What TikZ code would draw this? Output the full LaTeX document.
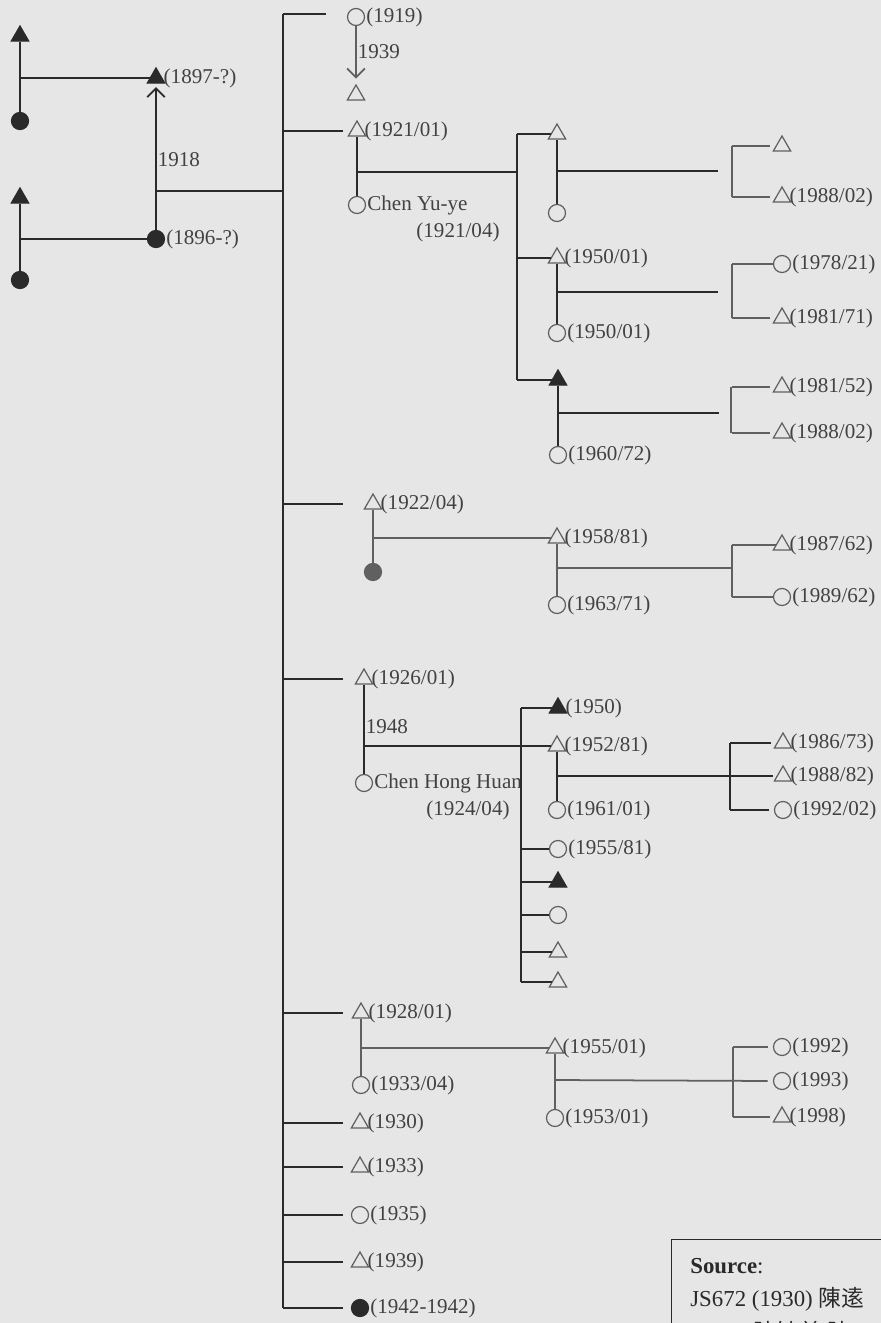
\documentclass[tikz,border=0pt]{standalone}
\usepackage{fontspec}
\setmainfont{Liberation Serif}
\newfontfamily\cjk{Noto Sans CJK TC}
\usetikzlibrary{shapes.geometric,arrows.meta}

\definecolor{paper}{HTML}{E6E6E6}
\definecolor{ink}{HTML}{2A2A2A}
\definecolor{soft}{HTML}{606060}
\definecolor{txt}{HTML}{424242}

\tikzset{
  male/.style={regular polygon, regular polygon sides=3, draw=soft, line width=0.7pt, inner sep=0pt, minimum size=0.40cm},
  female/.style={circle, draw=soft, line width=0.7pt, inner sep=0pt, minimum size=0.34cm},
  dead/.style={fill=ink, draw=ink},
  lbl/.style={text=txt, font=\fontsize{12}{14}\selectfont, inner sep=0.5pt},
  tie/.style={draw=ink, line width=1pt},
  faint/.style={draw=soft, line width=1pt},
}

\begin{document}
\begin{tikzpicture}[x=0.02cm, y=-0.02cm]
		\useasboundingbox (0,0) rectangle (881,1323);
		\fill[paper] (0,0) rectangle (881,1323);
		\clip (0,0) rectangle (881,1323);
		% parents' generation
		\node[male,dead] (ffa) at (20,36) {};
		\node[female,dead] (ffm) at (20,121) {};
		\node[male,dead,label={[lbl]right:{(1897-?)}}] (fa) at (156,78) {};
		\node[male,dead] (mfa) at (20,198) {};
		\node[female,dead] (mfm) at (20,280) {};
		\node[female,dead,label={[lbl]right:{(1896-?)}}] (mo) at (156,239) {};
		\draw[tie] (ffa.south) -- (ffm.north);
		\draw[tie] (ffa |- fa) -- (fa.west);
		\draw[tie] (mfa.south) -- (mfm.north);
		\draw[tie] (mfa |- mo) -- (mo.west);
		\draw[tie, -{Straight Barb[length=5pt,width=10pt]}, shorten >=2pt] (mo.north) -- (fa.south) node[lbl, pos=.48, right]{1918};
		\coordinate (m0) at (156,191);
		\coordinate (top) at (283,14);
		\coordinate (bot) at (283,1308);
		\coordinate (tip) at (343,0);
		\draw[tie] (m0) -- (m0 -| top);
		\draw[tie] (top) -- (bot);
		% children
		\node[female,label={[lbl]right:{(1919)}}] (c1) at (356,17) {};
		\node[male] (c1s) at (356,95) {};
		\draw[tie] (top) -- (top -| c1.west) [shorten >=12pt];
		\draw[faint, -{Straight Barb[length=5pt,width=10pt]}, shorten >=3pt] (c1.south) -- (c1s.north) node[lbl, pos=.45, right]{1939};
		\node[male,label={[lbl]right:{(1921/01)}}] (c2) at (357,131) {};
		\node[female,label={[lbl]right:{Chen Yu-ye}}] (w2) at (357,205) {};
		\node[lbl] (d2) at (458,232) {(1921/04)};
		\node[male,label={[lbl]right:{(1922/04)}}] (c3) at (373,504) {};
		\node[female,fill=soft] (w3) at (373,572) {};
		\node[male,label={[lbl]right:{(1926/01)}}] (c4) at (364,679) {};
		\node[female,label={[lbl]right:{Chen Hong Huan}}] (w4) at (364,783) {};
		\node[lbl] (d4) at (468,810) {(1924/04)};
		\node[male,label={[lbl]right:{(1928/01)}}] (c5) at (361,1013) {};
		\node[female,label={[lbl]right:{(1933/04)}}] (w5) at (361,1085) {};
		\node[male,label={[lbl]right:{(1930)}}] (c6) at (360,1123) {};
		\node[male,label={[lbl]right:{(1933)}}] (c7) at (360,1167) {};
		\node[female,label={[lbl]right:{(1935)}}] (c8) at (360,1215) {};
		\node[male,label={[lbl]right:{(1939)}}] (c9) at (360,1262) {};
		\node[female,dead,label={[lbl]right:{(1942-1942)}}] (c10) at (360,1308) {};
		\foreach \c in {c2,c3,c4,c5,c6,c7,c8,c9,c10}
			\draw[tie] (top |- \c) -- (tip |- \c);
		\draw[tie] (c2.south) -- (w2.north);
		\draw[faint] (c3.south) -- (w3.north);
		\draw[tie] (c4.south) -- (w4.north) node[lbl, pos=.47, right]{1948};
		\draw[faint] (c5.south) -- (w5.north);
		% grandchildren of (1921/01)
		\coordinate (m2) at (357,172);
		\coordinate (k1) at (517,0);
		\node[male] (g1) at (557,134) {};
		\node[female] (g1s) at (557,213) {};
		\node[male,label={[lbl]right:{(1950/01)}}] (g2) at (557,258) {};
		\node[female,label={[lbl]right:{(1950/01)}}] (g2s) at (557,333) {};
		\node[male,dead] (g3) at (558,380) {};
		\node[female,label={[lbl]right:{(1960/72)}}] (g3s) at (558,455) {};
		\draw[tie] (m2) -- (m2 -| k1);
		\draw[tie] (k1 |- g1) -- (k1 |- g3);
		\foreach \g in {g1,g2,g3}
			\draw[tie] (k1 |- \g) -- (\g.west);
		\draw[tie] (g1.south) -- (g1s.north);
		\draw[tie] (g2.south) -- (g2s.north);
		\draw[tie] (g3.south) -- (g3s.north);
		% great-grandchildren
		\coordinate (n1) at (557,171);
		\coordinate (b1) at (732,171);
		\node[male] (e1) at (782,146) {};
		\node[male,label={[lbl]right:{(1988/02)}}] (e2) at (782,197) {};
		\draw[tie, shorten >=8pt] (n1) -- (b1);
		\draw[faint] (b1 |- e1) -- (b1 |- e2);
		\coordinate (n2) at (557,292);
		\coordinate (b2) at (732,292);
		\node[female,label={[lbl]right:{(1978/21)}}] (e3) at (782,264) {};
		\node[male,label={[lbl]right:{(1981/71)}}] (e4) at (782,318) {};
		\draw[tie, shorten >=8pt] (n2) -- (b2);
		\draw[faint] (b2 |- e3) -- (b2 |- e4);
		\coordinate (n3) at (558,413);
		\coordinate (b3) at (731,413);
		\node[male,label={[lbl]right:{(1981/52)}}] (e5) at (782,387) {};
		\node[male,label={[lbl]right:{(1988/02)}}] (e6) at (782,433) {};
		\draw[tie, shorten >=7pt] (n3) -- (b3);
		\draw[faint] (b3 |- e5) -- (b3 |- e6);
		\foreach \e in {e1,e2,e4,e5,e6}
			\draw[faint, shorten >=3pt] (b1 |- \e) -- (\e.west);
		\draw[faint] (b1 |- e3) -- (e3.west);
		% grandchildren of (1922/04)
		\coordinate (m3) at (373,538);
		\node[male,label={[lbl]right:{(1958/81)}}] (g4) at (557,538) {};
		\node[female,label={[lbl]right:{(1963/71)}}] (g4s) at (557,605) {};
		\draw[faint] (m3) -- (g4.west);
		\draw[faint] (g4.south) -- (g4s.north);
		\coordinate (n4) at (557,568);
		\coordinate (b4) at (732,568);
		\node[male,label={[lbl]right:{(1987/62)}}] (e7) at (782,545) {};
		\node[female,label={[lbl]right:{(1989/62)}}] (e8) at (782,597) {};
		\draw[faint] (n4) -- (b4);
		\draw[faint] (b4 |- e7) -- (b4 |- e8);
		\draw[faint] (b4 |- e7) -- (e7.west);
		\draw[faint] (b4 |- e8) -- (e8.west);
		% grandchildren of (1926/01)
		\coordinate (m4) at (364,746);
		\coordinate (k2) at (521,0);
		\node[male,dead,label={[lbl]right:{(1950)}}] (g5) at (558,708) {};
		\node[male,label={[lbl]right:{(1952/81)}}] (g6) at (557,746) {};
		\node[female,label={[lbl]right:{(1961/01)}}] (g6s) at (557,810) {};
		\node[female,label={[lbl]right:{(1955/81)}}] (g7) at (558,849) {};
		\node[male,dead] (g8) at (558,882) {};
		\node[female] (g9) at (558,915) {};
		\node[male] (g10) at (558,952) {};
		\node[male] (g11) at (558,982) {};
		\draw[tie] (m4) -- (g6.west);
		\draw[tie] (k2 |- g5) -- (k2 |- g11);
		\foreach \g in {g5,g7,g8,g9,g10,g11}
			\draw[tie] (k2 |- \g) -- (\g.west);
		\draw[tie] (g6.south) -- (g6s.north);
		\coordinate (n6) at (557,776);
		\coordinate (b6) at (730,776);
		\node[male,label={[lbl]right:{(1986/73)}}] (e9) at (783,743) {};
		\node[male,label={[lbl]right:{(1988/82)}}] (e10) at (783,776) {};
		\node[female,label={[lbl]right:{(1992/02)}}] (e11) at (783,810) {};
		\draw[tie, shorten >=2pt] (n6) -- (e10.west);
		\draw[tie] (b6 |- e9) -- (b6 |- e11);
		\draw[tie, shorten >=3pt] (b6 |- e9) -- (e9.west);
		\draw[tie, shorten >=3pt] (b6 |- e11) -- (e11.west);
		% grandchildren of (1928/01)
		\coordinate (m5) at (361,1048);
		\node[male,label={[lbl]right:{(1955/01)}}] (g12) at (555,1048) {};
		\node[female,label={[lbl]right:{(1953/01)}}] (g12s) at (555,1118) {};
		\draw[faint] (m5) -- (g12.west);
		\draw[faint] (g12.south) -- (g12s.north);
		\coordinate (n7) at (555,1080);
		\coordinate (b7) at (733,1080);
		\node[female,label={[lbl]right:{(1992)}}] (e12) at (782,1047) {};
		\node[female,label={[lbl]right:{(1993)}}] (e13) at (782,1081) {};
		\node[male,label={[lbl]right:{(1998)}}] (e14) at (782,1117) {};
		\draw[faint, shorten >=3pt] (n7) -- (e13.west);
		\draw[faint] (b7 |- e12) -- (b7 |- e14);
		\draw[faint, shorten >=3pt] (b7 |- e12) -- (e12.west);
		\draw[faint, shorten >=3pt] (b7 |- e14) -- (e14.west);
		% source note
		\node[draw=ink, line width=0.8pt, anchor=north west, minimum width=5cm, minimum height=2.5cm] (src) at (671,1239) {};
		\node[anchor=base west, align=left, inner sep=0pt, text=ink, font=\fontsize{13}{19}\selectfont] (srctxt) at (690,1340) {\textbf{Source}:\\JS672 (1930)\ {\cjk 陳逺}\\S1100\ {\cjk 陳敏美\ 陳}};
		\end{tikzpicture}
\end{document}
